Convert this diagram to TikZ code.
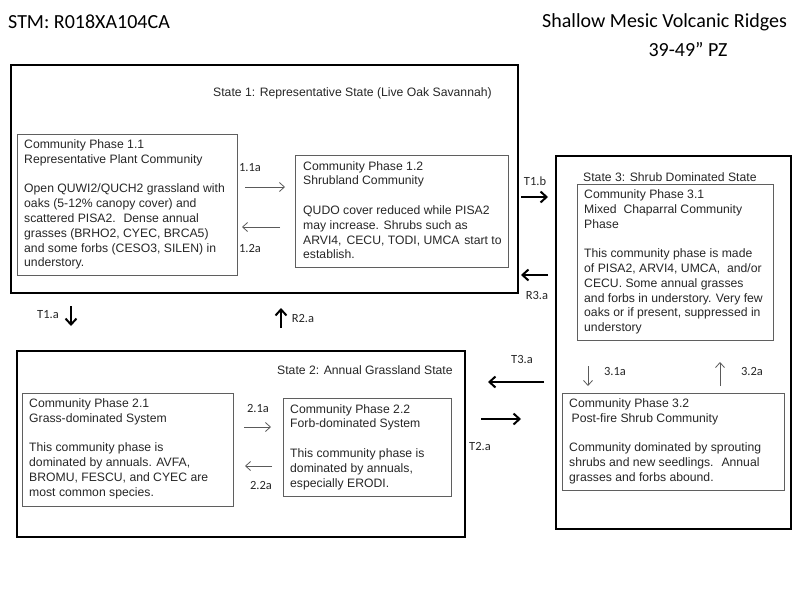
\documentclass[tikz,border=0pt]{standalone}
\usepackage{fontspec}
\setmainfont{Liberation Sans}
\newfontfamily\calib{Carlito}
\usetikzlibrary{arrows.meta}

\begin{document}
\begin{tikzpicture}[x=1pt,y=-1pt,
  statebox/.style={draw=black, line width=2.4pt, inner sep=0pt, anchor=north west},
  phasebox/.style={draw={rgb,255:red,95; green,95; blue,95}, line width=0.9pt, inner sep=0pt, anchor=north west},
  phasetext/.style={anchor=north west, align=left, inner sep=0pt, text=black!85, font=\fontsize{12.2}{14.8}\selectfont},
  statelbl/.style={anchor=west, inner sep=0pt, text=black!85, font=\fontsize{12.2}{14.8}\selectfont},
  arrlbl/.style={inner sep=0pt, text=black!85, font=\calib\fontsize{12.5}{14}\selectfont},
  thinarrow/.style={-{Straight Barb[length=5pt,width=9pt]}, line width=0.8pt, draw={rgb,255:red,90; green,90; blue,90}},
  boldarrow/.style={-{Straight Barb[length=6pt,width=11pt]}, line width=2pt}
]
\useasboundingbox (0,0) rectangle (800,600);

% titles
\node[anchor=west, inner sep=0pt, font=\calib\fontsize{20}{24}\selectfont] (stm) at (8,22) {STM: R018XA104CA};
\node[anchor=west, inner sep=0pt, font=\calib\fontsize{20}{24}\selectfont] (site) at (542,22) {Shallow Mesic Volcanic Ridges};
\node[inner sep=0pt, font=\calib\fontsize{20}{24}\selectfont] (pz) at (688,50) {39-49” PZ};

% state 1
\node[statebox, minimum width=507pt, minimum height=228pt] (s1) at (10,64) {};
\node[statelbl] (s1lbl) at (213,93) {State 1: Representative State (Live Oak Savannah)};
\node[phasebox, minimum width=220pt, minimum height=141pt] (p11) at (17,134) {};
\node[phasetext] (t11) at ([shift={(7,5.5)}]p11.north west) {Community Phase 1.1\\
  Representative Plant Community\\[14.8pt]
  Open QUWI2/QUCH2 grassland with\\
  oaks (5-12\% canopy cover) and\\
  scattered PISA2.~ Dense annual\\
  grasses (BRHO2, CYEC, BRCA5)\\
  and some forbs (CESO3, SILEN) in\\
  understory.};
\node[phasebox, minimum width=213pt, minimum height=112pt] (p12) at (295,155) {};
\node[phasetext] (t12) at ([shift={(8,6)}]p12.north west) {Community Phase 1.2\\
  Shrubland Community\\[14.8pt]
  QUDO cover reduced while PISA2\\
  may increase. Shrubs such as\\
  ARVI4,\hspace{1.5pt} CECU, TODI, UMCA\hspace{1.5pt} start to\\
  establish.};

% state 2
\node[statebox, minimum width=448pt, minimum height=186pt] (s2) at (16,350) {};
\node[statelbl] (s2lbl) at (277,370) {State 2: Annual Grassland State};
\node[phasebox, minimum width=211pt, minimum height=113pt] (p21) at (22,393) {};
\node[phasetext] (t21) at ([shift={(7,5.5)}]p21.north west) {Community Phase 2.1\\
  Grass-dominated System\\[14.8pt]
  This community phase is\\
  dominated by annuals. AVFA,\\
  BROMU, FESCU, and CYEC are\\
  most common species.};
\node[phasebox, minimum width=168pt, minimum height=98pt] (p22) at (283,398) {};
\node[phasetext] (t22) at ([shift={(7,6)}]p22.north west) {Community Phase 2.2\\
  Forb-dominated System\\[14.8pt]
  This community phase is\\
  dominated by annuals,\\
  especially ERODI.};

% state 3
\node[statebox, minimum width=235pt, minimum height=373pt] (s3) at (555,155) {};
\node[statelbl] (s3lbl) at (583,177) {State 3: Shrub Dominated State};
\node[phasebox, minimum width=196pt, minimum height=156pt] (p31) at (577,184) {};
\node[phasetext] (t31) at ([shift={(7,5.5)}]p31.north west) {Community Phase 3.1\\
  Mixed~ Chaparral Community\\
  Phase\\[14.8pt]
  This community phase is made\\
  of PISA2, ARVI4, UMCA,~ and/or\\
  CECU. Some annual grasses\\
  and forbs in understory. Very few\\
  oaks or if present, suppressed in\\
  understory};
\node[phasebox, minimum width=222pt, minimum height=97pt] (p32) at (562,393) {};
\node[phasetext] (t32) at ([shift={(7,5.5)}]p32.north west) {Community Phase 3.2\\
  \hspace{2.5pt}Post-fire Shrub Community\\[14.8pt]
  Community dominated by sprouting\\
  shrubs and new seedlings.~ Annual\\
  grasses and forbs abound.};

% arrow ends
\coordinate (a11s) at (245,187); \coordinate (a11e) at (285,187);
\coordinate (a12s) at (280,227); \coordinate (a12e) at (242,227);
\coordinate (a21s) at (244,427); \coordinate (a21e) at (271,427);
\coordinate (a22s) at (272,466); \coordinate (a22e) at (245,466);
\coordinate (a31s) at (588,366); \coordinate (a31e) at (588,386);
\coordinate (a32s) at (720,386); \coordinate (a32e) at (720,362);
\coordinate (t1bs) at (521,197); \coordinate (t1be) at (548,197);
\coordinate (r3as) at (548,275); \coordinate (r3ae) at (521,275);
\coordinate (t1as) at (71,306); \coordinate (t1ae) at (71,326);
\coordinate (r2as) at (281,328); \coordinate (r2ae) at (281,308);
\coordinate (t3as) at (544,382); \coordinate (t3ae) at (488,382);
\coordinate (t2as) at (481,419); \coordinate (t2ae) at (521,419);

% community pathways
\draw[thinarrow] (a11s) -- (a11e);
\draw[thinarrow] (a12s) -- (a12e);
\draw[thinarrow] (a21s) -- (a21e);
\draw[thinarrow] (a22s) -- (a22e);
\draw[thinarrow] (a31s) -- (a31e);
\draw[thinarrow] (a32s) -- (a32e);
\node[arrlbl] (l11) at (250,168) {1.1a};
\node[arrlbl] (l12) at (250,248) {1.2a};
\node[arrlbl] (l21) at (258,408) {2.1a};
\node[arrlbl] (l22) at (261,485) {2.2a};
\node[arrlbl] (l31) at (615,371) {3.1a};
\node[arrlbl] (l32) at (752,371) {3.2a};

% transitions
\draw[boldarrow] (t1bs) -- (t1be);
\draw[boldarrow] (r3as) -- (r3ae);
\draw[boldarrow] (t1as) -- (t1ae);
\draw[boldarrow] (r2as) -- (r2ae);
\draw[boldarrow] (t3as) -- (t3ae);
\draw[boldarrow] (t2as) -- (t2ae);
\node[arrlbl] (lt1b) at (535,181) {T1.b};
\node[arrlbl] (lr3a) at (537,295) {R3.a};
\node[arrlbl] (lt1a) at (48,315) {T1.a};
\node[arrlbl] (lr2a) at (303,318) {R2.a};
\node[arrlbl] (lt3a) at (522,359) {T3.a};
\node[arrlbl] (lt2a) at (480,446) {T2.a};
\end{tikzpicture}
\end{document}
